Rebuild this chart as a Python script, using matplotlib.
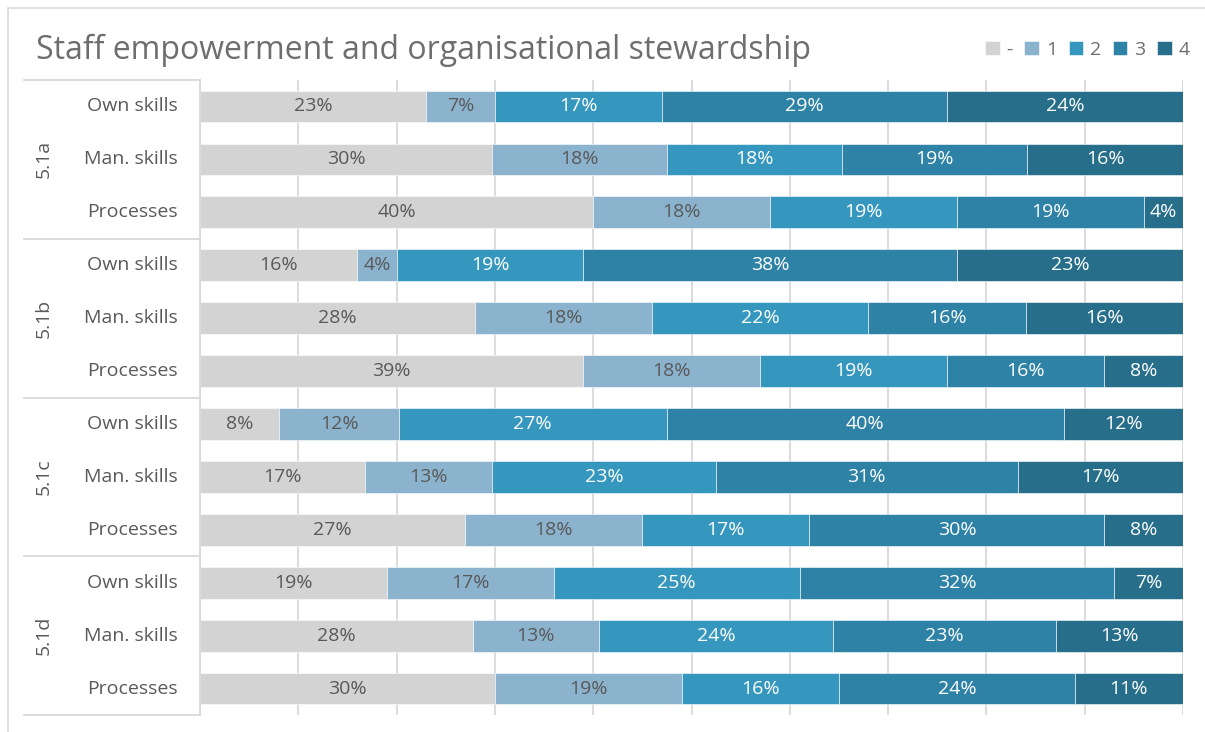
import matplotlib
matplotlib.use("Agg")
import matplotlib.pyplot as plt
from matplotlib.lines import Line2D
from matplotlib.patches import Rectangle
import numpy as np

plt.rcParams['font.family'] = ['Open Sans', 'DejaVu Sans']

title = "Staff empowerment and organisational stewardship"
groups = ["5.1a", "5.1b", "5.1c", "5.1d"]
items = ["Own skills", "Man. skills", "Processes"]
levels = ["-", "1", "2", "3", "4"]

# percentage shares per row (group x item), one list per response level
share_dash = [23, 30, 40, 16, 28, 39, 8, 17, 27, 19, 28, 30]
share_1    = [7, 18, 18, 4, 18, 18, 12, 13, 18, 17, 13, 19]
share_2    = [17, 18, 19, 19, 22, 19, 27, 23, 17, 25, 24, 16]
share_3    = [29, 19, 19, 38, 16, 16, 40, 31, 30, 32, 23, 24]
share_4    = [24, 16, 4, 23, 16, 8, 12, 17, 8, 7, 13, 11]

series = [share_dash, share_1, share_2, share_3, share_4]
colors = ["#D3D3D3", "#8BB3CD", "#3597BE", "#2E82A5", "#276E8B"]
text_colors = ["#595959", "#595959", "white", "white", "white"]

W, H = 1205, 732
fig = plt.figure(figsize=(W / 100, H / 100), dpi=100)

def fx(px):
    return px / W

def fy(py):
    return 1 - py / H

# outer chart frame
fig.patches.append(Rectangle((fx(8), -0.1), 1.2, fy(8) + 0.1, transform=fig.transFigure,
                             fill=False, edgecolor="#D9D9D9", linewidth=1.2))

ax_l, ax_r, ax_t, ax_b = 200, 1183, 80, 715
ax = fig.add_axes([fx(ax_l), fy(ax_b), fx(ax_r - ax_l), (ax_b - ax_t) / H])

data = np.array(series, dtype=float)
totals = data.sum(axis=0)
widths = data / totals * 100
n_rows = data.shape[1]
y = np.arange(n_rows)

ax.set_xlim(0, 100)
ax.set_ylim(n_rows - 0.5, -0.5)
for gx in np.arange(0, 101, 10):
    ax.axvline(gx, color="#D9D9D9", linewidth=1.3, zorder=0)

left = np.zeros(n_rows)
for k in range(len(series)):
    ax.barh(y, widths[k], left=left, height=0.6, color=colors[k],
            edgecolor="white", linewidth=0.4, zorder=2, label=levels[k])
    for i in range(n_rows):
        ax.text(left[i] + widths[k][i] / 2, y[i], f"{int(data[k][i])}%",
                ha="center", va="center", fontsize=14, color=text_colors[k], zorder=3)
    left += widths[k]

ax.set_xticks([])
ax.set_yticks([])
for s in ax.spines.values():
    s.set_visible(False)

# category axis: item labels, group labels and separators
row_h = (ax_b - ax_t) / n_rows
for i in range(n_rows):
    yc = ax_t + (i + 0.5) * row_h
    fig.text(fx(178), fy(yc), items[i % 3], ha="right", va="center",
             fontsize=14, color="#595959")
for g, name in enumerate(groups):
    yc = ax_t + (g * 3 + 1.5) * row_h
    fig.text(fx(44), fy(yc), name, ha="center", va="center", rotation=90,
             fontsize=14, color="#595959")
for g in range(len(groups) + 1):
    yl = ax_t + g * 3 * row_h
    fig.lines.append(Line2D([fx(24), fx(ax_l)], [fy(yl), fy(yl)], transform=fig.transFigure,
                            color="#D9D9D9", linewidth=1.3))
fig.lines.append(Line2D([fx(ax_l), fx(ax_l)], [fy(ax_t), fy(ax_b)], transform=fig.transFigure,
                        color="#D9D9D9", linewidth=1.3))

fig.text(fx(36), fy(50), title, ha="left", va="center", fontsize=23, color="#6E6E6E")

leg = fig.legend(loc="center right", bbox_to_anchor=(fx(1207), fy(50)), ncol=5, frameon=False,
                 fontsize=14, handlelength=0.75, handleheight=0.75, handletextpad=0.35,
                 columnspacing=0.6, labelcolor="#6E6E6E")

fig.savefig("out.png", dpi=100)
